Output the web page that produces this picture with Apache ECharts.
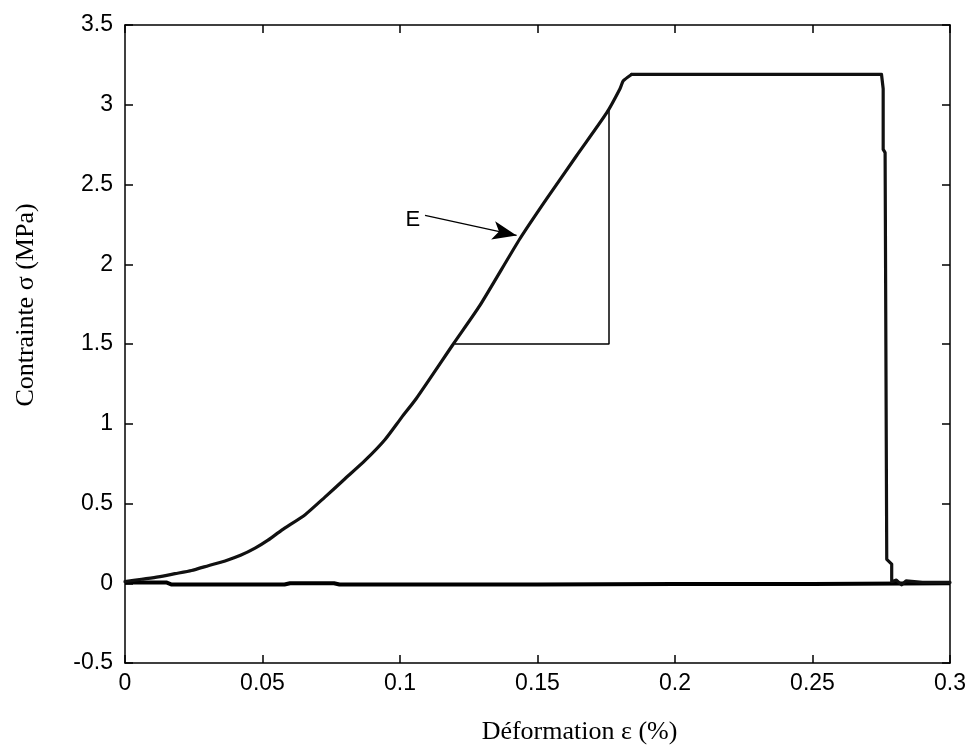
<!DOCTYPE html>
<html>
<head>
<meta charset="utf-8">
<script src="https://cdn.jsdelivr.net/npm/echarts@6/dist/echarts.min.js"></script>
<style>html,body{margin:0;padding:0;background:#fff;}#c{width:969px;height:750px;}</style>
</head>
<body>
<div id="c"></div>
<script>
// Courbe contrainte-déformation : partie montante
var riseX = [0, 0.006, 0.0121, 0.0182, 0.0242, 0.0303, 0.0364, 0.042, 0.0473, 0.052, 0.057, 0.0655, 0.0727, 0.08, 0.0873, 0.0945, 0.1006, 0.106, 0.1194, 0.129, 0.1436, 0.1533, 0.1642, 0.1752, 0.18, 0.1812, 0.1842];
var riseY = [0.01, 0.025, 0.04, 0.06, 0.08, 0.11, 0.14, 0.175, 0.22, 0.27, 0.333, 0.43, 0.54, 0.655, 0.77, 0.90, 1.04, 1.16, 1.5, 1.74, 2.16, 2.41, 2.68, 2.95, 3.10, 3.15, 3.19];
// Palier puis rupture
var dropX = [0.1842, 0.22, 0.26, 0.2751, 0.2757, 0.2757, 0.2764, 0.277, 0.2788, 0.2788, 0.2805, 0.2824, 0.284, 0.29, 0.3];
var dropY = [3.19, 3.19, 3.19, 3.19, 3.1, 2.72, 2.7, 0.15, 0.12, 0.01, 0.02, -0.01, 0.015, 0.005, 0.005];
// Ligne de retour à zéro
var zeroX = [0, 0.015, 0.017, 0.058, 0.06, 0.076, 0.078, 0.15, 0.2, 0.25, 0.3];
var zeroY = [0.005, 0.005, -0.008, -0.008, 0.0, 0.0, -0.008, -0.008, -0.005, -0.005, 0.0];
// Triangle de pente (module E)
var triX = [0.12, 0.176, 0.176];
var triY = [1.5, 1.5, 2.97];
// Annotation E
var arrowStart = [0.1091, 2.306];
var arrowEnd = [0.1424, 2.181];
var labelE = [0.1047, 2.275];

var xTicks = {min: 0, max: 0.3, interval: 0.05};
var yTicks = {min: -0.5, max: 3.5, interval: 0.5};

function zip(a, b) { return a.map(function (v, i) { return [v, b[i]]; }); }

var axisLineStyle = {color: '#000', width: 1.5};
var tickFont = {fontFamily: 'Liberation Sans', fontSize: 23, color: '#000'};

var chart = echarts.init(document.getElementById('c'));
chart.setOption({
  animation: false,
  backgroundColor: '#fff',
  grid: {left: 125, right: 19, top: 25, bottom: 83, containLabel: false},
  xAxis: [{
    type: 'value', position: 'bottom', min: xTicks.min, max: xTicks.max, interval: xTicks.interval,
    name: 'Déformation ε (%)', nameLocation: 'middle', nameGap: 56,
    nameTextStyle: {fontFamily: 'Liberation Serif', fontSize: 26, color: '#000', padding: [0, 0, 0, 84]},
    axisLine: {show: true, onZero: false, lineStyle: axisLineStyle},
    axisTick: {show: true, inside: true, length: 8, lineStyle: axisLineStyle},
    axisLabel: Object.assign({margin: 9}, tickFont),
    splitLine: {show: false}
  }, {
    type: 'value', position: 'top', min: xTicks.min, max: xTicks.max, interval: xTicks.interval,
    axisLine: {show: true, onZero: false, lineStyle: axisLineStyle},
    axisTick: {show: true, inside: true, length: 8, lineStyle: axisLineStyle},
    axisLabel: {show: false}, splitLine: {show: false}
  }],
  yAxis: [{
    type: 'value', position: 'left', min: yTicks.min, max: yTicks.max, interval: yTicks.interval,
    name: 'Contrainte σ (MPa)', nameLocation: 'middle', nameGap: 86,
    nameTextStyle: {fontFamily: 'Liberation Serif', fontSize: 26, color: '#000', padding: [0, 0, 0, 78]},
    axisLine: {show: true, onZero: false, lineStyle: axisLineStyle},
    axisTick: {show: true, inside: true, length: 8, lineStyle: axisLineStyle},
    axisLabel: Object.assign({margin: 12}, tickFont),
    splitLine: {show: false}
  }, {
    type: 'value', position: 'right', min: yTicks.min, max: yTicks.max, interval: yTicks.interval,
    axisLine: {show: true, onZero: false, lineStyle: axisLineStyle},
    axisTick: {show: true, inside: true, length: 8, lineStyle: axisLineStyle},
    axisLabel: {show: false}, splitLine: {show: false}
  }],
  series: [{
    type: 'line', data: zip(zeroX, zeroY), showSymbol: false, symbol: 'none',
    lineStyle: {color: '#000', width: 4}, z: 3
  }, {
    type: 'line', data: zip(riseX, riseY), showSymbol: false, symbol: 'none',
    smooth: 0.2,
    lineStyle: {color: '#111', width: 3.2, join: 'round', cap: 'round'}, z: 4
  }, {
    type: 'line', data: zip(dropX, dropY), showSymbol: false, symbol: 'none',
    lineStyle: {color: '#111', width: 3.2, join: 'round', cap: 'round'}, z: 4
  }, {
    type: 'line', data: zip(triX, triY), showSymbol: false, symbol: 'none',
    lineStyle: {color: '#000', width: 1.5}, z: 2,
    markLine: {
      silent: true, symbol: ['none', 'arrow'], symbolSize: [14, 24],
      label: {show: false},
      lineStyle: {color: '#000', width: 1.2, type: 'solid'},
      data: [[{coord: arrowStart}, {coord: arrowEnd}]]
    }
  }, {
    type: 'scatter', data: [labelE], symbol: 'circle', symbolSize: 1,
    itemStyle: {color: 'rgba(0,0,0,0)'}, silent: true, z: 5,
    label: {show: true, position: 'inside', formatter: 'E', fontFamily: 'Liberation Sans', fontSize: 22,
      color: '#000', textBorderWidth: 0, textBorderColor: 'transparent', opacity: 1}
  }]
});
</script>
</body>
</html>
